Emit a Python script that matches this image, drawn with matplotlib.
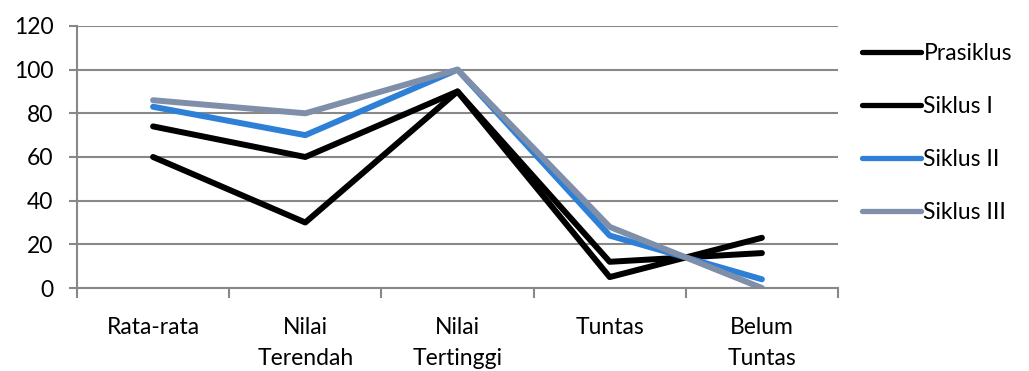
import matplotlib.pyplot as plt

plt.rcParams['font.family'] = ['Lato', 'DejaVu Sans']

kategori = ['Rata-rata', 'Nilai\nTerendah', 'Nilai\nTertinggi', 'Tuntas', 'Belum\nTuntas']
prasiklus = [60, 30, 90, 5, 23]
siklus1 = [74, 60, 90, 12, 16]
siklus2 = [83, 70, 100, 24, 4]
siklus3 = [86, 80, 100, 28, 0]

seri = [('Prasiklus', prasiklus, '#000000'),
        ('Siklus I', siklus1, '#000000'),
        ('Siklus II', siklus2, '#2E7FD6'),
        ('Siklus III', siklus3, '#7F8FAA')]

fig = plt.figure(figsize=(10.29, 3.71), dpi=100)
ax = fig.add_axes([0.0748, 0.2237, 0.7396, 0.7063])

x = range(len(kategori))
for nama, nilai, warna in seri:
    ax.plot(x, nilai, color=warna, lw=4.3, label=nama,
            solid_capstyle='round', solid_joinstyle='round')

ax.set_xlim(-0.5, len(kategori) - 0.5)
ax.set_ylim(0, 120)
ax.set_yticks(range(0, 121, 20))
ax.set_xticks(list(x))
ax.set_xticklabels(kategori, fontsize=16.5, linespacing=1.55, va='top')
ax.set_xticks([i + 0.5 for i in range(-1, len(kategori))], minor=True)
ax.tick_params(axis='x', which='major', length=0, pad=21)
ax.tick_params(axis='x', which='minor', length=7, width=1.5, color='#888888', direction='out')
ax.tick_params(axis='y', length=6, width=1.5, color='#888888', pad=11, labelsize=16.5)

ax.grid(axis='y', color='#888888', lw=1.5)
ax.set_axisbelow(True)
for s in ['top', 'right']:
    ax.spines[s].set_visible(False)
for s in ['left', 'bottom']:
    ax.spines[s].set_color('#888888')
    ax.spines[s].set_linewidth(1.5)

leg = fig.legend(loc='upper left', bbox_to_anchor=(0.829, 0.91), frameon=False,
                 fontsize=16.5, handlelength=2.55, handletextpad=0.12, labelspacing=1.4,
                 borderaxespad=0)
for ln in leg.get_lines():
    ln.set_linewidth(3.8)

fig.savefig('out.png', dpi=100)
